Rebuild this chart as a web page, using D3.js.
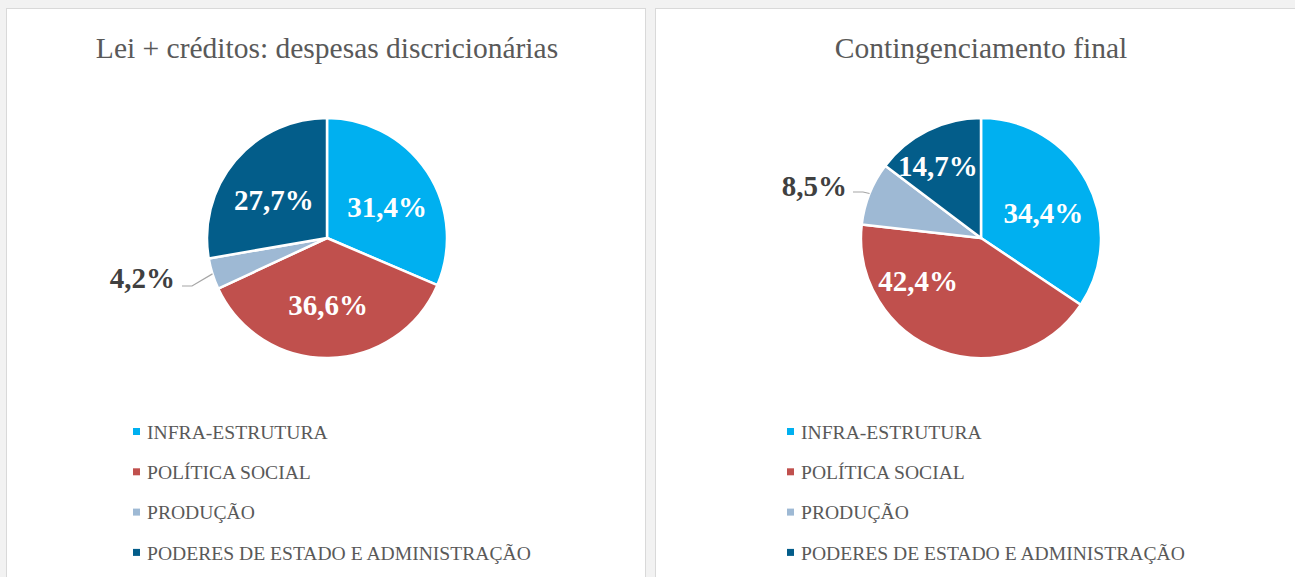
<!DOCTYPE html>
<html>
<head>
<meta charset="utf-8">
<script src="https://cdn.jsdelivr.net/npm/d3@7"></script>
<style>
  body { margin: 0; background: #f2f2f2; }
  svg { display: block; }
  text { font-family: "Liberation Serif", "DejaVu Serif", serif; }
</style>
</head>
<body>
<script>
// categories shared by both charts
var categories = ["INFRA-ESTRUTURA", "POLÍTICA SOCIAL", "PRODUÇÃO", "PODERES DE ESTADO E ADMINISTRAÇÃO"];
var colors = ["#00b0f0", "#c0504d", "#9eb9d4", "#035d8a"];

// percent values, one array per chart
var leiCreditos = [31.4, 36.6, 4.2, 27.7];
var contingenciamento = [34.4, 42.4, 8.5, 14.7];

var titles = ["Lei + créditos: despesas discricionárias", "Contingenciamento final"];

var width = 1295,
    height = 577;

var svg = d3.select("body")
    .append("svg")
    .attr("width", width)
    .attr("height", height);

// panel layout
var panels = [
    {x: 6, w: 639, values: leiCreditos, title: titles[0], cx: 327,
     //outside label for small slice + label nudges (Excel best fit)
     outside: 2, outLabel: [175, 278], elbow: [182, 286], nudge: [[2, 7], [0, -3], [0, 0], [0, 7]]},
    {x: 655, w: 660, values: contingenciamento, title: titles[1], cx: 981,
     outside: 2, outLabel: [847, 186], elbow: [853, 192], nudge: [[1, 8], [-39, -22], [0, 0], [-12, -10]]}
];

var radius = 120,
    cy = 238;

var pie = d3.pie()
    .sort(null)
    .value(function(d){ return d; });

var arc = d3.arc()
    .innerRadius(0)
    .outerRadius(radius);

var labelArc = d3.arc()
    .innerRadius(radius * 0.58)
    .outerRadius(radius * 0.58);

var edgeArc = d3.arc()
    .innerRadius(radius)
    .outerRadius(radius);

panels.forEach(function(p){

    //panel frame
    svg.append("rect")
        .attr("x", p.x + 0.5)
        .attr("y", 8.5)
        .attr("width", p.w)
        .attr("height", height)
        .attr("fill", "#fff")
        .attr("stroke", "#d9d9d9")
        .attr("stroke-width", 1);

    //title
    svg.append("text")
        .attr("x", p.cx)
        .attr("y", 58)
        .attr("text-anchor", "middle")
        .attr("font-size", 29.5)
        .attr("fill", "#595959")
        .text(p.title);

    var g = svg.append("g")
        .attr("transform", "translate(" + p.cx + "," + cy + ")");

    var arcs = pie(p.values);

    g.selectAll(".slice")
        .data(arcs)
        .enter()
        .append("path")
        .attr("class", "slice")
        .attr("d", arc)
        .attr("fill", function(d, i){ return colors[i]; })
        .attr("stroke", "#fff")
        .attr("stroke-width", 2.5)
        .attr("stroke-linejoin", "round");

    //labels inside the slices
    g.selectAll(".lbl")
        .data(arcs.filter(function(d, i){ return i != p.outside; }))
        .enter()
        .append("text")
        .attr("class", "lbl")
        .attr("transform", function(d){
            var c = labelArc.centroid(d);
            var n = p.nudge[d.index];
            return "translate(" + (c[0] + n[0]) + "," + (c[1] + n[1]) + ")";
        })
        .attr("text-anchor", "middle")
        .attr("dy", "0.35em")
        .attr("font-size", 29)
        .attr("font-weight", "bold")
        .attr("fill", "#fff")
        .text(function(d){ return d3.format(".1f")(d.data).replace(".", ",") + "%"; });

    //outside label with leader line
    var small = arcs[p.outside];
    var e = edgeArc.centroid(small);
    svg.append("polyline")
        .attr("points", [
            [p.elbow[0], p.elbow[1]],
            [p.elbow[0] + 10, p.elbow[1]],
            [p.cx + e[0], cy + e[1]]
        ].map(function(pt){ return pt.join(","); }).join(" "))
        .attr("fill", "none")
        .attr("stroke", "#a6a6a6")
        .attr("stroke-width", 1.2);

    svg.append("text")
        .attr("x", p.outLabel[0])
        .attr("y", p.outLabel[1])
        .attr("text-anchor", "end")
        .attr("dy", "0.35em")
        .attr("font-size", 29)
        .attr("font-weight", "bold")
        .attr("fill", "#404040")
        .text(d3.format(".1f")(small.data).replace(".", ",") + "%");

    //legend
    var legend = svg.append("g")
        .attr("transform", "translate(" + (p.cx - 194) + ",432)");

    var item = legend.selectAll(".item")
        .data(categories)
        .enter()
        .append("g")
        .attr("class", "item")
        .attr("transform", function(d, i){ return "translate(0," + (i * 40.3) + ")"; });

    item.append("rect")
        .attr("x", 0)
        .attr("y", -4)
        .attr("width", 7)
        .attr("height", 7)
        .attr("fill", function(d, i){ return colors[i]; });

    item.append("text")
        .attr("x", 14)
        .attr("dy", "0.35em")
        .attr("font-size", 19.6)
        .attr("fill", "#595959")
        .text(function(d){ return d; });
});
</script>
</body>
</html>
